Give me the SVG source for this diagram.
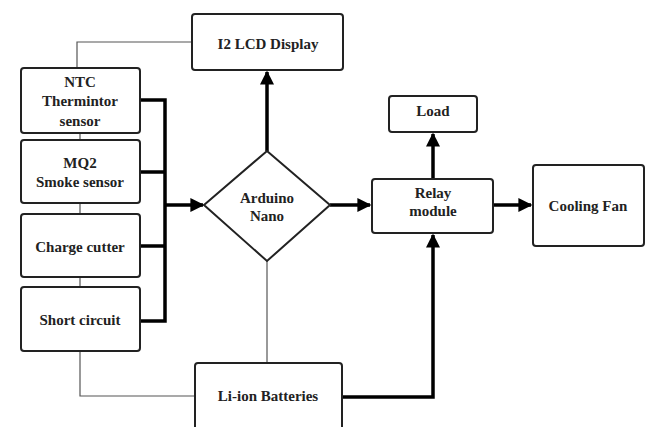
<svg xmlns="http://www.w3.org/2000/svg" width="651" height="427" viewBox="0 0 651 427">
<defs>
<style>
.box{fill:#fff;stroke:#222;stroke-width:2}
.t{font-weight:700;font-size:15px;fill:#222;text-anchor:middle}
.thin{fill:none;stroke:#555;stroke-width:1.2}
.thick{fill:none;stroke:#000;stroke-width:3.5}
</style>
<marker id="ah" viewBox="0 0 10 10" refX="9" refY="5" markerWidth="4" markerHeight="4" markerUnits="strokeWidth" orient="auto">
<path d="M0,0 L10,5 L0,10 z" fill="#000"/>
</marker>
</defs>
<rect width="651" height="427" fill="#fff"/>
<g id="connectors">
<path class="thin" d="M77,68 V42 H192"/>
<path class="thin" d="M80,133 V140 M80,203 V214 M80,277 V287"/>
<path class="thin" d="M80,351 V396 H195"/>
<path class="thin" d="M267,261 V363"/>
<path class="thick" d="M140,100 H165 V321 H140 M140,172 H165 M140,246 H165"/>
<path class="thick" d="M165,205 H203" marker-end="url(#ah)"/>
<path class="thick" d="M267,151 V72" marker-end="url(#ah)"/>
<path class="thick" d="M330,205 H370" marker-end="url(#ah)"/>
<path class="thick" d="M433,179 V134" marker-end="url(#ah)"/>
<path class="thick" d="M493,205 H531" marker-end="url(#ah)"/>
<path class="thick" d="M342,397 H433 V235" marker-end="url(#ah)"/>
</g>
<g font-family="Liberation Serif, Times New Roman, serif">
<g id="lcd"><rect class="box" x="192" y="14" width="151" height="56" rx="3"/><text class="t" x="268" y="49">I2 LCD Display</text></g>
<g id="ntc"><rect class="box" x="21" y="68" width="119" height="65" rx="3"/><text class="t" x="80" y="87">NTC</text><text class="t" x="80" y="106">Thermintor</text><text class="t" x="80" y="126">sensor</text></g>
<g id="mq2"><rect class="box" x="21" y="140" width="119" height="63" rx="3"/><text class="t" x="80" y="168">MQ2</text><text class="t" x="80" y="187">Smoke sensor</text></g>
<g id="charge"><rect class="box" x="21" y="214" width="119" height="63" rx="3"/><text class="t" x="80" y="252">Charge cutter</text></g>
<g id="short"><rect class="box" x="21" y="287" width="119" height="64" rx="3"/><text class="t" x="80" y="325">Short circuit</text></g>
<g id="arduino"><polygon class="box" points="267,151 330,205 267,261 204,205"/><text class="t" x="267" y="203">Arduino</text><text class="t" x="267" y="221">Nano</text></g>
<g id="battery"><rect class="box" x="195" y="363" width="147" height="70" rx="3"/><text class="t" x="268" y="401">Li-ion Batteries</text></g>
<g id="load"><rect class="box" x="389" y="96" width="88" height="36" rx="3"/><text class="t" x="433" y="116">Load</text></g>
<g id="relay"><rect class="box" x="372" y="179" width="121" height="54" rx="3"/><text class="t" x="433" y="198">Relay</text><text class="t" x="433" y="216">module</text></g>
<g id="fan"><rect class="box" x="533" y="165" width="111" height="81" rx="3"/><text class="t" x="588" y="211">Cooling Fan</text></g>
</g>
</svg>
